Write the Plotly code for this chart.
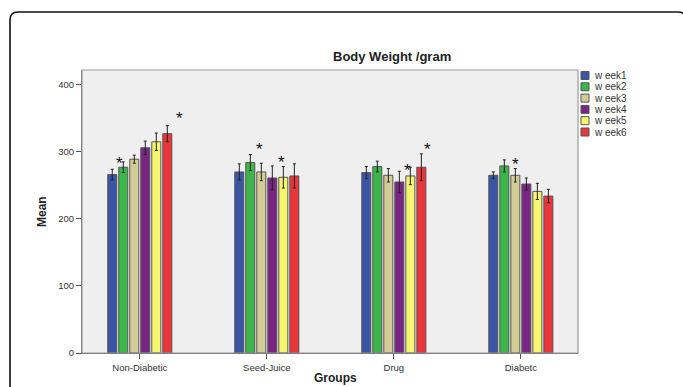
import plotly.graph_objects as go

groups = ["Non-Diabetic", "Seed-Juice", "Drug", "Diabetc"]
weeks = ["w eek1", "w eek2", "w eek3", "w eek4", "w eek5", "w eek6"]
colors = ["#3a55a5", "#3cb64b", "#d3cc96", "#7a2483", "#f7f46e", "#ea353b"]

week1 = [266, 270, 269, 265]
week2 = [277, 284, 278, 279]
week3 = [289, 270, 265, 265]
week4 = [306, 261, 255, 252]
week5 = [315, 262, 264, 241]
week6 = [327, 264, 277, 234]
values = [week1, week2, week3, week4, week5, week6]

err1 = [8, 12, 9, 5]
err2 = [8, 12, 8, 9]
err3 = [6, 13, 10, 10]
err4 = [10, 18, 16, 9]
err5 = [13, 16, 13, 12]
err6 = [12, 18, 20, 10]
errors = [err1, err2, err3, err4, err5, err6]

# asterisks: (group index, week index, label height, horizontal nudge in bar slots)
star_group = [0, 0, 1, 1, 2, 2, 3]
star_week = [1, 5, 2, 4, 4, 5, 2]
star_y = [289, 356, 309, 290, 278, 309, 287]
star_dx = [-0.3, 1.1, -0.2, -0.2, -0.3, 0.6, 0.0]

W, H = 683, 387
L, R, T, B = 82, 105, 70, 34
pw, ph = W - L - R, H - T - B

bargap = 0.48
groupw = 1 - bargap
slot = groupw / len(weeks)

fig = go.Figure()
for i, wk in enumerate(weeks):
    fig.add_trace(go.Bar(
        x=groups, y=values[i], name=wk,
        marker=dict(color=colors[i], line=dict(color="#555555", width=1)),
        error_y=dict(type="data", array=errors[i], color="#222222", thickness=1, width=1.5),
        showlegend=False,
    ))

annotations = []
for g, k, yv, dx in zip(star_group, star_week, star_y, star_dx):
    xc = g + (k - (len(weeks) - 1) / 2) * slot + dx * slot
    annotations.append(dict(x=xc, y=yv, xref="x", yref="y", text="*", showarrow=False,
                            font=dict(size=17, color="#111111", family="Liberation Sans"),
                            yanchor="middle", yshift=-4))

# manual legend
shapes = []
leg_x0 = (581 - L) / pw
leg_x1 = (589 - L) / pw
for i, wk in enumerate(weeks):
    yc = 75.5 + i * 11.3
    y0 = 1 - (yc - 4 - T) / ph
    y1 = 1 - (yc + 4 - T) / ph
    shapes.append(dict(type="rect", xref="paper", yref="paper", x0=leg_x0, x1=leg_x1,
                       y0=y1, y1=y0, fillcolor=colors[i], line=dict(color="#555555", width=1)))
    annotations.append(dict(x=(592 - L) / pw, y=1 - (yc - T) / ph, xref="paper", yref="paper",
                            text=wk, showarrow=False, xanchor="left", yanchor="middle",
                            font=dict(size=10, color="#333333", family="Liberation Sans")))

# outer rounded frame
fx0, fy0, fx1, fy1 = 10, 12, 686, 400
r = 8
def px(x):
    return (x - L) / pw
def py(y):
    return 1 - (y - T) / ph
path = (f"M {px(fx0)},{py(fy1)} L {px(fx0)},{py(fy0 + r)} "
        f"Q {px(fx0)},{py(fy0)} {px(fx0 + r)},{py(fy0)} "
        f"L {px(fx1 - r)},{py(fy0)} Q {px(fx1)},{py(fy0)} {px(fx1)},{py(fy0 + r)} "
        f"L {px(fx1)},{py(fy1)}")
shapes.append(dict(type="path", xref="paper", yref="paper", path=path,
                   line=dict(color="#111111", width=1.6)))

# plot frame (top/right lighter)
shapes.append(dict(type="rect", xref="paper", yref="paper", x0=0, x1=1, y0=0, y1=1,
                   line=dict(color="#9a9a9a", width=1.2), layer="above"))

annotations.append(dict(x=px(392), y=py(56), xref="paper", yref="paper", text="<b>Body Weight /gram</b>",
                        showarrow=False, font=dict(size=13, color="#222222", family="Liberation Sans"),
                        xanchor="center", yanchor="middle"))
annotations.append(dict(x=px(335), y=py(378), xref="paper", yref="paper", text="<b>Groups</b>",
                        showarrow=False, font=dict(size=12, color="#222222", family="Liberation Sans"),
                        xanchor="center", yanchor="middle"))
annotations.append(dict(x=px(42), y=py(212), xref="paper", yref="paper", text="<b>Mean</b>",
                        showarrow=False, textangle=-90,
                        font=dict(size=12, color="#222222", family="Liberation Sans"),
                        xanchor="center", yanchor="middle"))

fig.update_layout(
    width=W, height=H,
    margin=dict(l=L, r=R, t=T, b=B, pad=0),
    paper_bgcolor="white", plot_bgcolor="#efefef",
    barmode="group", bargap=bargap, bargroupgap=0.18,
    font=dict(family="Liberation Sans", size=9, color="#333333"),
    xaxis=dict(type="category", range=[-0.455, 3.45], showgrid=False, zeroline=False,
               showline=True, linecolor="#666666", linewidth=1.2,
               ticks="outside", ticklen=5, tickcolor="#555555", tickwidth=1,
               tickfont=dict(size=9.5, color="#333333")),
    yaxis=dict(range=[0, 422], tickvals=[0, 100, 200, 300, 400], showgrid=False, zeroline=False,
               showline=True, linecolor="#666666", linewidth=1.2,
               ticks="outside", ticklen=5, tickcolor="#555555", tickwidth=1,
               tickfont=dict(size=9.5, color="#333333")),
    shapes=shapes, annotations=annotations,
)

fig.write_html("out.html", config={"displayModeBar": False},
               post_script="document.body.style.margin='0px';document.body.style.overflow='hidden';")
